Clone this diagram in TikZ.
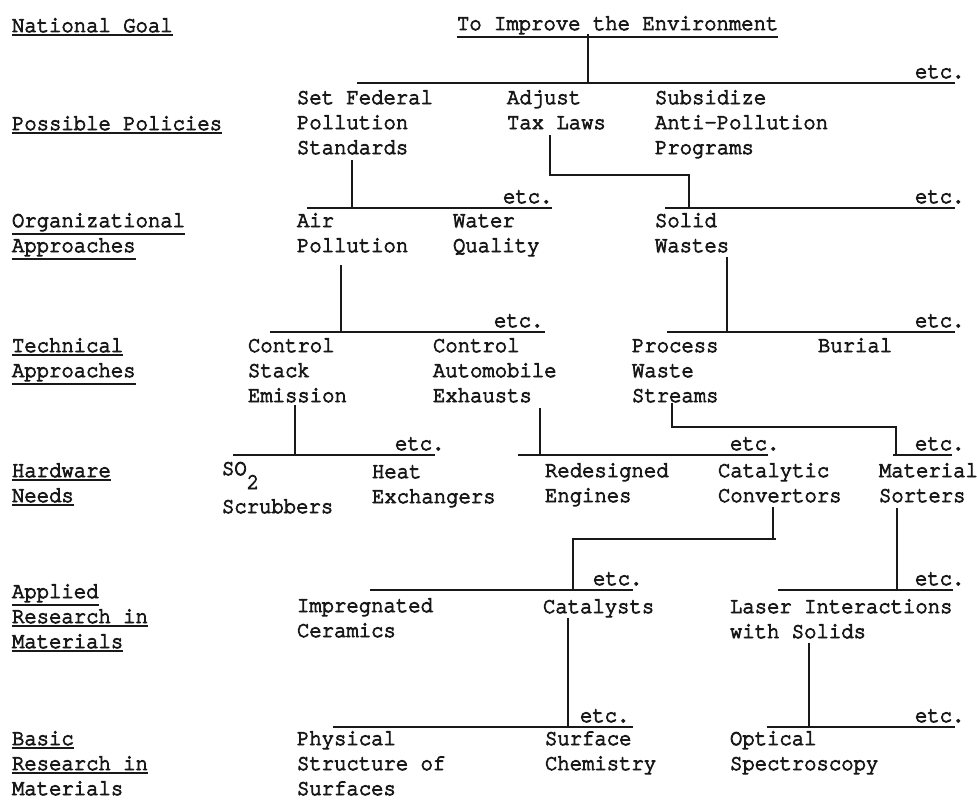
\documentclass[tikz,border=0pt]{standalone}
\usepackage{fontspec}
\newfontfamily\twfam{texgyrecursor-regular.otf}[FakeStretch=0.9156, BoldFont=texgyrecursor-regular.otf, BoldFeatures={FakeBold=4}]
\newcommand\twfont{\twfam\bfseries\fontsize{22.5}{25}\selectfont}
\newcommand\tul[1]{\setbox0=\hbox{#1}\leavevmode\rlap{\vrule height \dimexpr-\dp0-2pt\relax depth \dimexpr\dp0+4pt\relax width \wd0}\box0}
\newcommand\mlines[1]{\vtop{\baselineskip=25pt\lineskiplimit=-100pt\lineskip=0pt\halign{##\hfil\cr#1\crcr}}}
\definecolor{ink}{RGB}{25,25,25}
\begin{document}
\begin{tikzpicture}[x=1pt,y=-1pt,
  txt/.style={anchor=base west,inner sep=0pt,outer sep=0pt,font=\twfont,text=ink},
  bar/.style={draw=ink,line width=1.8pt},
  stem/.style={draw=ink,line width=1.5pt}]
\fill[white] (0,0) rectangle (977,800);
\useasboundingbox (0,0) rectangle (977,800);

% left column labels
\node[txt] (lab1) at (12,32) {\tul{National Goal}};
\node[txt] (lab2) at (12,130) {\tul{Possible Policies}};
\node[txt] (lab3) at (12,227) {\mlines{\tul{Organizational}\cr\tul{Approaches}}};
\node[txt] (lab4) at (12,352) {\mlines{\tul{Technical}\cr\tul{Approaches}}};
\node[txt] (lab5) at (12,477) {\mlines{\tul{Hardware}\cr\tul{Needs}}};
\node[txt] (lab6) at (12,598) {\mlines{\tul{Applied}\cr\tul{Research in}\cr\tul{Materials}}};
\node[txt] (lab7) at (12,745) {\mlines{\tul{Basic}\cr\tul{Research in}\cr Materials}};

% tree nodes
\node[txt] (goal) at (457,30) {\tul{To Improve the Environment}};
\node[txt] (p1) at (297,104) {\mlines{Set Federal\cr Pollution\cr Standards}};
\node[txt] (p2) at (507,104) {\mlines{Adjust\cr Tax Laws}};
\node[txt] (p3) at (655,104) {\mlines{Subsidize\cr Anti-Pollution\cr Programs}};
\node[txt] (o1) at (297,227) {\mlines{Air\cr Pollution}};
\node[txt] (o2) at (453,227) {\mlines{Water\cr Quality}};
\node[txt] (o3) at (655,227) {\mlines{Solid\cr Wastes}};
\node[txt] (t1) at (248,352) {\mlines{Control\cr Stack\cr Emission}};
\node[txt] (t2) at (433,352) {\mlines{Control\cr Automobile\cr Exhausts}};
\node[txt] (t3) at (632,352) {\mlines{Process\cr Waste\cr Streams}};
\node[txt] (t4) at (818,352) {Burial};
\node[txt] (h1) at (222,475) {\mlines{SO\raisebox{-14pt}{2}\cr\noalign{\vskip 13pt}Scrubbers}};
\node[txt] (h2) at (372,478) {\mlines{Heat\cr Exchangers}};
\node[txt] (h3) at (545,477) {\mlines{Redesigned\cr Engines}};
\node[txt] (h4) at (718,477) {\mlines{Catalytic\cr Convertors}};
\node[txt] (h5) at (879,477) {\mlines{Material\cr Sorters}};
\node[txt] (a1) at (297,612) {\mlines{Impregnated\cr Ceramics}};
\node[txt] (a2) at (543,613) {Catalysts};
\node[txt] (a3) at (730,613) {\mlines{Laser Interactions\cr with Solids}};
\node[txt] (b1) at (297,745) {\mlines{Physical\cr Structure of\cr Surfaces}};
\node[txt] (b2) at (545,745) {\mlines{Surface\cr Chemistry}};
\node[txt] (b3) at (730,745) {\mlines{Optical\cr Spectroscopy}};

% etc. labels
\node[txt] (e1) at (915,78) {etc.};
\node[txt] (e2l) at (503,203) {etc.};
\node[txt] (e2r) at (915,203) {etc.};
\node[txt] (e3l) at (494,327) {etc.};
\node[txt] (e3r) at (915,327) {etc.};
\node[txt] (e4l) at (395,450) {etc.};
\node[txt] (e4m) at (730,450) {etc.};
\node[txt] (e4r) at (915,450) {etc.};
\node[txt] (e5l) at (593,585) {etc.};
\node[txt] (e5r) at (915,585) {etc.};
\node[txt] (e6l) at (580,722) {etc.};
\node[txt] (e6r) at (915,722) {etc.};

% bars
\coordinate (b1a) at (357,83);  \coordinate (b1b) at (955,83);
\coordinate (b2la) at (307,208); \coordinate (b2lb) at (552,208);
\coordinate (b2ra) at (665,208); \coordinate (b2rb) at (955,208);
\coordinate (b3la) at (270,332); \coordinate (b3lb) at (545,332);
\coordinate (b3ra) at (667,332); \coordinate (b3rb) at (955,332);
\coordinate (b4la) at (233,455); \coordinate (b4lb) at (435,455);
\coordinate (b4ma) at (518,455); \coordinate (b4mb) at (768,455);
\coordinate (b4ra) at (893,455); \coordinate (b4rb) at (952,455);
\coordinate (b5la) at (370,590); \coordinate (b5lb) at (633,590);
\coordinate (b5ra) at (778,590); \coordinate (b5rb) at (953,590);
\coordinate (b6la) at (333,727); \coordinate (b6lb) at (633,727);
\coordinate (b6ra) at (767,727); \coordinate (b6rb) at (955,727);
\foreach \a/\b in {b1a/b1b,b2la/b2lb,b2ra/b2rb,b3la/b3lb,b3ra/b3rb,b4la/b4lb,b4ma/b4mb,b4ra/b4rb,b5la/b5lb,b5ra/b5rb,b6la/b6lb,b6ra/b6rb}
  \draw[bar] (\a) -- (\b);

% stems
\coordinate (sg) at (588,34);  \coordinate (jg) at (588,83);
\coordinate (sp1) at (352,160); \coordinate (jp1) at (352,208);
\coordinate (sp2) at (550,135); \coordinate (kp2a) at (550,175); \coordinate (kp2b) at (689,175); \coordinate (jp2) at (689,208);
\coordinate (so1) at (341,265); \coordinate (jo1) at (341,332);
\coordinate (so3) at (727,257); \coordinate (jo3) at (727,332);
\coordinate (st1) at (295,405); \coordinate (jt1) at (295,455);
\coordinate (st2) at (540,408); \coordinate (jt2) at (540,455);
\coordinate (st3) at (672,403); \coordinate (kt3a) at (672,427); \coordinate (kt3b) at (896,427); \coordinate (jt3) at (896,455);
\coordinate (sh4) at (773,507); \coordinate (kh4a) at (776,539); \coordinate (kh4b) at (573,539); \coordinate (jh4) at (573,590);
\coordinate (sh5) at (897,508); \coordinate (jh5) at (897,590);
\coordinate (sa2) at (568,618); \coordinate (ja2) at (568,727);
\coordinate (sa3) at (809,643); \coordinate (ja3) at (809,727);

\draw[stem] (sg) -- (jg);
\draw[stem] (sp1) -- (jp1);
\draw[stem] (sp2) -- (kp2a) -- (kp2b) -- (jp2);
\draw[stem] (so1) -- (jo1);
\draw[stem] (so3) -- (jo3);
\draw[stem] (st1) -- (jt1);
\draw[stem] (st2) -- (jt2);
\draw[stem] (st3) -- (kt3a) -- (kt3b) -- (jt3);
\draw[stem] (sh4) -- (sh4 |- kh4a) (kh4a) -- (kh4b) -- (jh4);
\draw[stem] (sh5) -- (jh5);
\draw[stem] (sa2) -- (ja2);
\draw[stem] (sa3) -- (ja3);
\end{tikzpicture}
\end{document}
